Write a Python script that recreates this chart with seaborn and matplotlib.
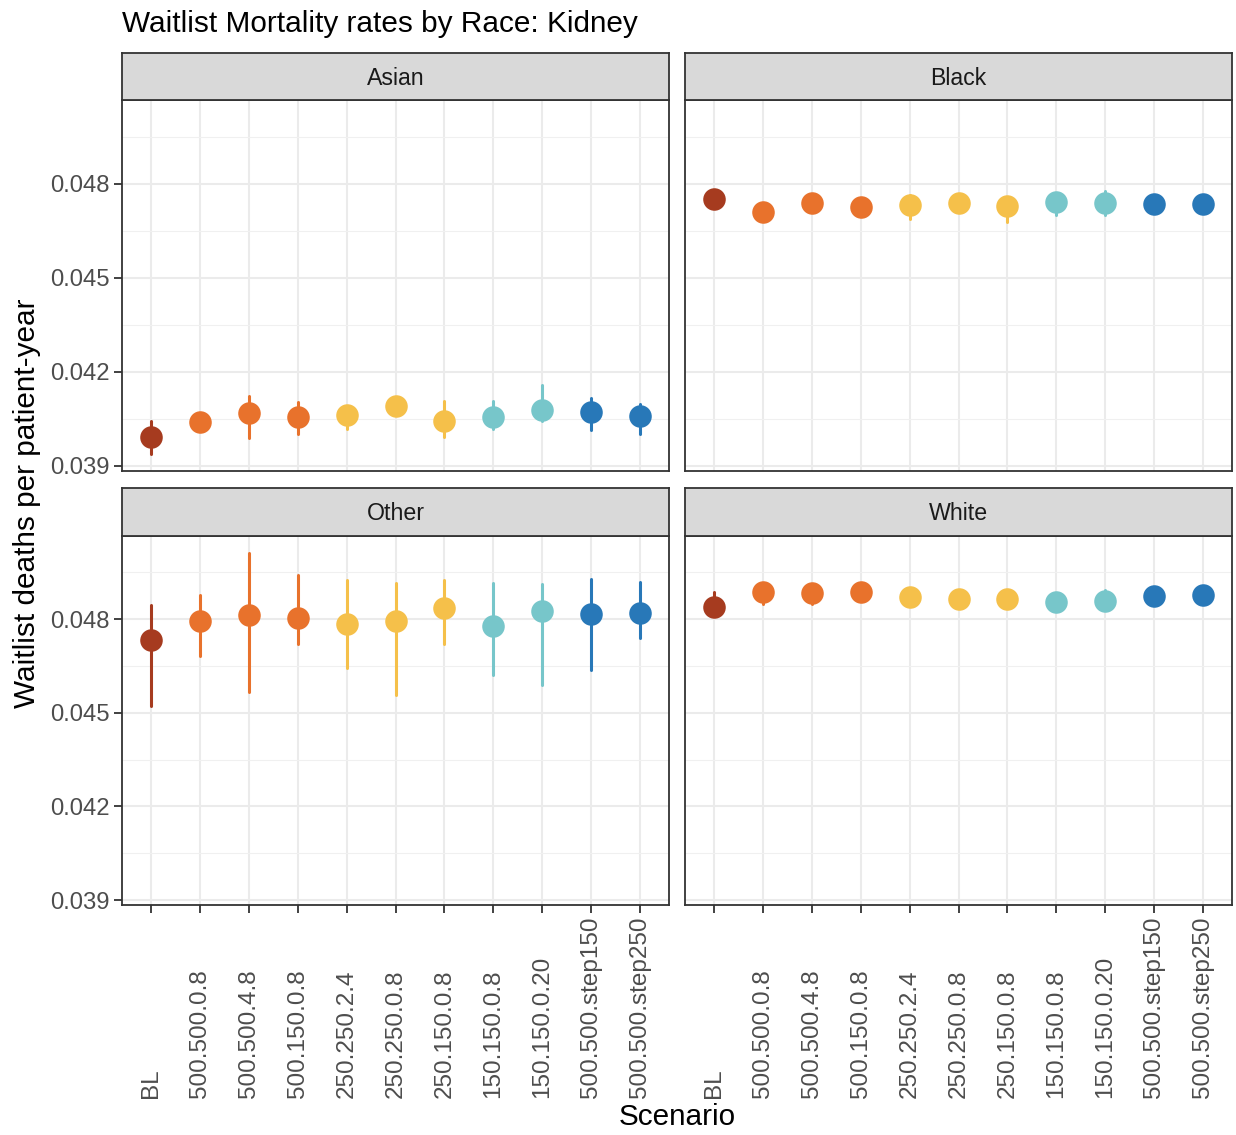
import numpy as np
import pandas as pd
import matplotlib
matplotlib.use("Agg")
import matplotlib.pyplot as plt
from matplotlib.ticker import FixedLocator
import seaborn as sns

# ---------------- data ----------------
scenarios = ["BL", "500.500.0.8", "500.500.4.8", "500.150.0.8", "250.250.2.4",
             "250.250.0.8", "250.150.0.8", "150.150.0.8", "150.150.0.20",
             "500.500.step150", "500.500.step250"]
races = ["Asian", "Black", "Other", "White"]

asian_mid = [0.03993, 0.04039, 0.04068, 0.04055, 0.04062, 0.04092, 0.04044, 0.04057, 0.04078, 0.04071, 0.04060]
asian_lo  = [0.03938, 0.04030, 0.03988, 0.04002, 0.04018, 0.04078, 0.03991, 0.04018, 0.04044, 0.04015, 0.04002]
asian_hi  = [0.04044, 0.04048, 0.04124, 0.04103, 0.04088, 0.04106, 0.04108, 0.04108, 0.04158, 0.04116, 0.04097]

black_mid = [0.04752, 0.04709, 0.04739, 0.04725, 0.04733, 0.04739, 0.04728, 0.04741, 0.04739, 0.04736, 0.04735]
black_lo  = [0.04730, 0.04680, 0.04720, 0.04705, 0.04688, 0.04722, 0.04677, 0.04700, 0.04700, 0.04722, 0.04718]
black_hi  = [0.04775, 0.04735, 0.04760, 0.04745, 0.04765, 0.04758, 0.04750, 0.04770, 0.04778, 0.04752, 0.04752]

other_mid = [0.04733, 0.04796, 0.04815, 0.04804, 0.04785, 0.04796, 0.04836, 0.04780, 0.04825, 0.04817, 0.04820]
other_lo  = [0.04523, 0.04682, 0.04566, 0.04720, 0.04644, 0.04557, 0.04720, 0.04620, 0.04588, 0.04637, 0.04741]
other_hi  = [0.04847, 0.04879, 0.05013, 0.04942, 0.04926, 0.04915, 0.04926, 0.04915, 0.04912, 0.04928, 0.04921]

white_mid = [0.04839, 0.04889, 0.04884, 0.04886, 0.04873, 0.04865, 0.04865, 0.04857, 0.04859, 0.04874, 0.04877]
white_lo  = [0.04818, 0.04849, 0.04849, 0.04870, 0.04858, 0.04852, 0.04850, 0.04843, 0.04840, 0.04862, 0.04865]
white_hi  = [0.04886, 0.04915, 0.04900, 0.04902, 0.04888, 0.04878, 0.04880, 0.04872, 0.04893, 0.04888, 0.04890]

palette = ["#A63B1F", "#E8722C", "#E8722C", "#E8722C", "#F5C04A", "#F5C04A",
           "#F5C04A", "#77C6CA", "#77C6CA", "#2878B8", "#2878B8"]

ytick_vals = [0.039, 0.042, 0.045, 0.048]
yminor_vals = [0.0405, 0.0435, 0.0465, 0.0495]

series = {
    "Asian": (asian_lo, asian_mid, asian_hi),
    "Black": (black_lo, black_mid, black_hi),
    "Other": (other_lo, other_mid, other_hi),
    "White": (white_lo, white_mid, white_hi),
}

rows = []
for race in races:
    lo, mid, hi = series[race]
    for s, a, b, c in zip(scenarios, lo, mid, hi):
        for v in (a, b, c):
            rows.append({"Race": race, "Scenario": s, "value": v})
df = pd.DataFrame(rows)

# ---------------- figure ----------------
sns.set_theme(style="white")
plt.rcParams["font.family"] = ["Liberation Sans", "DejaVu Sans"]

W, H = 1236, 1135
fig = plt.figure(figsize=(W / 100, H / 100), dpi=100)
fig.patch.set_facecolor("white")


def rect(l, t, r, b):
    return [l / W, 1 - b / H, (r - l) / W, (b - t) / H]


cols_x = [(122, 669), (685, 1232)]
rows_y = [(53, 100, 471), (488, 536, 905)]

border = "#333333"
grid_c = "#EBEBEB"
tick_text = "#4D4D4D"

for i, race in enumerate(races):
    r, c = divmod(i, 2)
    l, rr = cols_x[c]
    st, pt, pb = rows_y[r]
    ax = fig.add_axes(rect(l, pt, rr, pb))
    sax = fig.add_axes(rect(l, st, rr, pt))

    sub = df[df["Race"] == race]
    sns.pointplot(data=sub, x="Scenario", y="value", hue="Scenario",
                  order=scenarios, hue_order=scenarios, palette=palette,
                  estimator="median", errorbar=lambda v: (v.min(), v.max()),
                  linestyle="none", markers="o", markersize=14.2,
                  err_kws={"linewidth": 2.2}, legend=False, ax=ax)

    ax.set_xlim(-0.6, len(scenarios) - 0.4)
    ax.set_ylim(0.03884, 0.05067)
    ax.yaxis.set_major_locator(FixedLocator(ytick_vals))
    ax.yaxis.set_minor_locator(FixedLocator(yminor_vals))
    ax.set_facecolor("white")
    ax.set_axisbelow(True)
    ax.grid(True, which="major", axis="both", color=grid_c, linewidth=1.5)
    ax.grid(True, which="minor", axis="y", color="#F0F0F0", linewidth=0.8)
    for sp in ax.spines.values():
        sp.set_visible(True)
        sp.set_color(border)
        sp.set_linewidth(1.3)
    ax.set_xlabel("")
    ax.set_ylabel("")

    ax.tick_params(axis="y", which="minor", left=False, length=0)
    if c == 0:
        ax.set_yticklabels([f"{v:.3f}" for v in ytick_vals])
        ax.tick_params(axis="y", which="major", left=True, length=5.5, width=1.3,
                       color=border, labelsize=17.2, labelcolor=tick_text, pad=3.5)
    else:
        ax.tick_params(axis="y", which="major", left=False, labelleft=False)

    if r == 1:
        ax.set_xticks(range(len(scenarios)))
        ax.set_xticklabels(scenarios, rotation=90, ha="center", va="bottom")
        ax.tick_params(axis="x", bottom=True, length=5.5, width=1.3, color=border,
                       labelsize=17.5, labelcolor=tick_text, pad=0)
        yfrac = -(1090 - pb) / (pb - pt)
        for lab in ax.get_xticklabels():
            lab.set_y(yfrac)
    else:
        ax.tick_params(axis="x", bottom=False, labelbottom=False)

    # strip
    sax.set_facecolor("#D9D9D9")
    sax.set_xticks([])
    sax.set_yticks([])
    for sp in sax.spines.values():
        sp.set_visible(True)
        sp.set_color(border)
        sp.set_linewidth(1.3)
    sax.text(0.5, 0.46, race, ha="center", va="center", fontsize=16.7,
             color="#1A1A1A", transform=sax.transAxes)

fig.text(122 / W, 1 - 23.5 / H, "Waitlist Mortality rates by Race: Kidney",
         ha="left", va="center", fontsize=21.4, color="black")
fig.text(27 / W, 1 - 503 / H, "Waitlist deaths per patient-year", rotation=90,
         ha="center", va="center", fontsize=21.4, color="black")
fig.text(677 / W, 1 - 1117 / H, "Scenario", ha="center", va="center",
         fontsize=21.4, color="black")

fig.savefig("out.png", dpi=100, facecolor="white")
